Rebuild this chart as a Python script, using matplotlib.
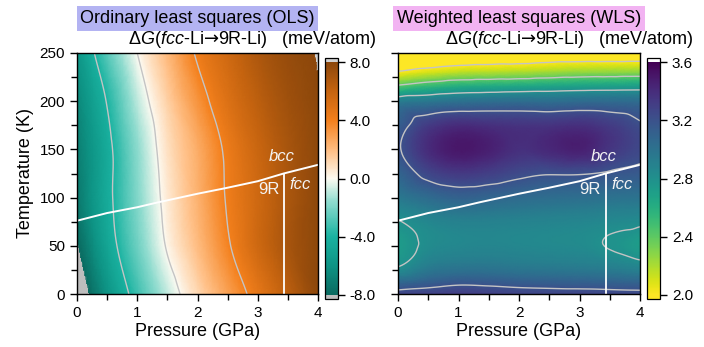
"""
OLS vs WLS maps of dG(fcc-Li -> 9R-Li) over pressure and temperature
"""

import numpy as np
import matplotlib
matplotlib.use('Agg')
import matplotlib.pyplot as plt
import matplotlib.tri as mtri
from matplotlib.colors import LinearSegmentedColormap

plt.rcParams['font.family'] = ['Liberation Sans', 'DejaVu Sans']
plt.rcParams['mathtext.fontset'] = 'custom'
plt.rcParams['mathtext.rm'] = 'Liberation Sans'
plt.rcParams['mathtext.it'] = 'Liberation Sans:italic'
plt.rcParams['mathtext.sf'] = 'DejaVu Sans'
plt.rcParams['axes.unicode_minus'] = False

# grid (GPa, K)
pressure = [0.0, 0.5, 1.0, 1.5, 2.0, 2.5, 3.0, 3.5, 4.0]
temp_ols = [0, 50, 100, 150, 200, 250]
temp_wls = [0, 10, 25, 50, 75, 100, 125, 150, 175, 200, 215, 230, 250]

# OLS dG (meV/atom), one row per temperature
dg_ols = [
    [-9.2, -6.0, -3.28, -0.87, 1.12, 2.88, 4.6, 6.3, 7.9],
    [-8.05, -4.9, -2.27, 0.15, 1.98, 3.82, 5.6, 7.0, 7.9],
    [-7.3, -4.5, -1.87, 0.51, 2.33, 4.15, 5.6, 6.9, 7.9],
    [-7.0, -4.5, -1.67, 0.8, 2.5, 4.3, 5.8, 7.0, 7.9],
    [-6.6, -3.9, -0.94, 1.33, 3.3, 5.0, 6.3, 7.3, 7.95],
    [-5.8, -2.7, 0.0, 2.1, 4.2, 5.6, 6.8, 7.6, 8.05],
]

# WLS dG (meV/atom), one row per temperature
dg_wls = [
    [3.27, 3.29, 3.31, 3.30, 3.28, 3.27, 3.27, 3.26, 3.25],
    [3.10, 3.15, 3.19, 3.18, 3.16, 3.15, 3.14, 3.13, 3.12],
    [2.83, 2.96, 3.00, 3.00, 2.98, 2.97, 2.96, 2.94, 2.90],
    [2.72, 2.83, 2.86, 2.87, 2.86, 2.85, 2.84, 2.79, 2.72],
    [2.79, 2.86, 2.90, 2.90, 2.89, 2.88, 2.87, 2.85, 2.83],
    [2.95, 3.04, 3.10, 3.08, 3.05, 3.03, 3.02, 3.00, 2.99],
    [3.08, 3.26, 3.33, 3.30, 3.24, 3.21, 3.21, 3.18, 3.15],
    [3.18, 3.40, 3.50, 3.46, 3.38, 3.42, 3.46, 3.35, 3.25],
    [3.12, 3.32, 3.40, 3.38, 3.36, 3.36, 3.38, 3.32, 3.22],
    [2.92, 2.96, 3.00, 3.02, 3.03, 3.02, 3.04, 3.04, 3.03],
    [2.45, 2.55, 2.62, 2.64, 2.66, 2.68, 2.70, 2.71, 2.72],
    [2.02, 2.10, 2.16, 2.18, 2.20, 2.23, 2.26, 2.27, 2.28],
    [1.70, 1.72, 1.75, 1.77, 1.78, 1.80, 1.80, 1.80, 1.80],
]

# phase boundaries
bcc_p = [0.0, 0.5, 1.0, 1.34, 2.0, 2.48, 3.0, 3.43, 4.0]
bcc_t = [76, 84, 90, 95, 104, 110, 117, 125, 134]
r9_p = [3.43, 3.43]
r9_t = [0, 125]

levels_ols = [-4, 0, 4]
levels_wls = [2.0, 2.4, 2.8, 3.2]
ticks_ols = [-8, -4, 0, 4, 8]
ticks_wls = [2.0, 2.4, 2.8, 3.2, 3.6]

cmap_ols = LinearSegmentedColormap.from_list('ols', [
    (0.0, '#0a6a60'), (0.125, '#0e9485'), (0.25, '#1ab3a1'),
    (0.40, '#8fdccf'), (0.5, '#fdfbf2'), (0.62, '#ffbf85'),
    (0.75, '#f4801c'), (0.88, '#c4630f'), (1.0, '#8c470b')])
cmap_ols.set_under('#bdbdbd')
cmap_ols.set_over('#d2d2d2')
cmap_wls = plt.get_cmap('viridis_r').copy()
cmap_wls.set_under('#fde725')
cmap_wls.set_over('#ffffff')

W, H = 704, 347
fig = plt.figure(figsize=(W / 100, H / 100), dpi=100)


def fbox(x0, y0, x1, y1):
    # pixel box (top-left origin) -> figure fraction rect
    return [x0 / W, 1 - y1 / H, (x1 - x0) / W, (y1 - y0) / H]


def smooth_mesh(temps, vals):
    # matplotlib's own cubic refinement of the coarse grid (scaled to unit box)
    pp, tt = np.meshgrid(pressure, temps)
    tri = mtri.Triangulation(pp.ravel() / 4.0, tt.ravel() / 250.0)
    refiner = mtri.UniformTriRefiner(tri)
    interp = mtri.CubicTriInterpolator(tri, np.array(vals).ravel(), kind='geom')
    tri_f, z_f = refiner.refine_field(np.array(vals).ravel(),
                                      triinterpolator=interp, subdiv=4)
    tri_out = mtri.Triangulation(tri_f.x * 4.0, tri_f.y * 250.0, tri_f.triangles)
    return tri_out, z_f


def panel(ax_rect, cax_rect, temps, vals, cmap, vmin, vmax, levels, ticks,
          title, title_bg, title_x, sub_x, show_ylabel):
    ax = fig.add_axes(fbox(*ax_rect))
    cax = fig.add_axes(fbox(*cax_rect))
    tri, zf = smooth_mesh(temps, vals)
    mesh = ax.tripcolor(tri, zf, cmap=cmap, vmin=vmin, vmax=vmax,
                        shading='gouraud', rasterized=True)
    # clean edges for out-of-range areas
    if zf.min() < vmin:
        ax.tricontourf(tri, zf, levels=[zf.min() - 1, vmin],
                       colors=[cmap.get_under()])
    if zf.max() > vmax:
        ax.tricontourf(tri, zf, levels=[vmax, zf.max() + 1],
                       colors=[cmap.get_over()])
    ax.tricontour(tri, zf, levels=levels, colors='#c4c4c4', linewidths=1.0,
                  linestyles='solid')
    ax.plot(bcc_p, bcc_t, color='white', lw=1.4)
    ax.plot(r9_p, r9_t, color='white', lw=1.3)
    ax.text(3.40, 143, 'bcc', style='italic', color='#f4f4f4', fontsize=12,
            ha='center', va='center')
    ax.text(3.18, 108, '9R', color='#f4f4f4', fontsize=12,
            ha='center', va='center')
    ax.text(3.70, 114, 'fcc', style='italic', color='#f4f4f4', fontsize=12,
            ha='center', va='center')

    ax.set_xlim(0, 4)
    ax.set_ylim(0, 250)
    ax.set_xticks([0, 1, 2, 3, 4])
    ax.set_xticks([0.5, 1.5, 2.5, 3.5], minor=True)
    ax.set_yticks([0, 50, 100, 150, 200, 250])
    ax.set_yticks([25, 75, 125, 175, 225], minor=True)
    ax.tick_params(which='both', direction='out', labelsize=11, width=1.0)
    ax.tick_params(which='major', length=5)
    ax.tick_params(which='minor', length=4)
    ax.set_xlabel('Pressure (GPa)', fontsize=13, labelpad=2)
    if show_ylabel:
        ax.set_ylabel('Temperature (K)', fontsize=13, labelpad=4)
    else:
        ax.set_yticklabels([])
    for s in ax.spines.values():
        s.set_linewidth(1.0)

    cb = fig.colorbar(mesh, cax=cax, extend='both', extendrect=True,
                      extendfrac=0.018, ticks=ticks, format='%.1f')
    cb.outline.set_linewidth(0.9)
    cax.tick_params(direction='out', length=5, labelsize=11, width=1.0)

    fig.text(title_x / W, 1 - 18.5 / H, title, fontsize=13, ha='center',
             va='center',
             bbox=dict(boxstyle='square,pad=0.2', facecolor=title_bg,
                       edgecolor='none'))
    fig.text(sub_x / W, 1 - 40 / H,
             r'Δ$G$($fcc$-Li$\mathsf{→}$9R-Li)   (meV/atom)', fontsize=13,
             ha='left', va='center')


panel((77, 53, 318, 294), (325, 58, 338, 299), temp_ols, dg_ols, cmap_ols,
      -8, 8, levels_ols, ticks_ols, 'Ordinary least squares (OLS)',
      '#b3b3f2', 197.5, 128, True)
panel((398, 53, 640, 294), (647, 58, 660, 299), temp_wls, dg_wls, cmap_wls,
      2.0, 3.6, levels_wls, ticks_wls, 'Weighted least squares (WLS)',
      '#f2b3f2', 519, 445, False)

plt.savefig('out.png', dpi=100)
